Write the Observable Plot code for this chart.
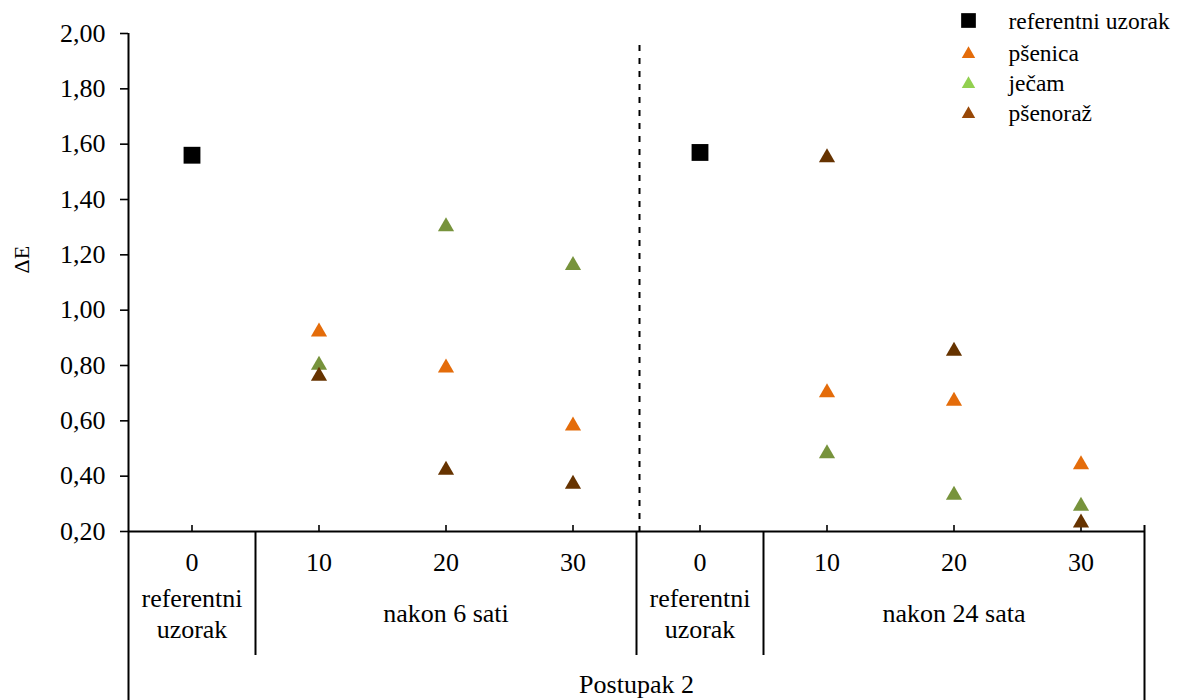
<!DOCTYPE html>
<html>
<head>
<meta charset="utf-8">
<script src="https://cdn.jsdelivr.net/npm/d3@7"></script>
<script src="https://cdn.jsdelivr.net/npm/@observablehq/plot@0.6"></script>
<style>
  html, body { margin: 0; padding: 0; background: #fff; }
  #chart { width: 1180px; height: 700px; }
  #chart svg, #chart svg text { font-family: "Liberation Serif", "Times New Roman", serif !important; }
</style>
</head>
<body>
<div id="chart"></div>
<script>
// ---- data ----
const tickLabels = ["0", "10", "20", "30", "0", "10", "20", "30"];
const groupLabels = ["referentni\nuzorak", "nakon 6 sati", "referentni\nuzorak", "nakon 24 sata"];
const groupStart = [0, 1, 4, 5];
const groupEnd = [1, 4, 5, 8];
const treatmentLabel = "Postupak 2";
const seriesNames = ["referentni uzorak", "pšenica", "ječam", "pšenoraž"];
const referentni = [1.56, null, null, null, 1.57, null, null, null];
const psenica = [null, 0.93, 0.80, 0.59, null, 0.71, 0.68, 0.45];
const jecam = [null, 0.81, 1.31, 1.17, null, 0.49, 0.34, 0.30];
const psenoraz = [null, 0.77, 0.43, 0.38, null, 1.56, 0.86, 0.24];
const yTicks = [0.2, 0.4, 0.6, 0.8, 1.0, 1.2, 1.4, 1.6, 1.8, 2.0];
const yLabel = "ΔE";

// ---- styles ----
const pointColors = ["#000000", "#E46C0A", "#77933C", "#663300"];
const legendColors = ["#000000", "#E46C0A", "#92D050", "#984807"];
const symbols = ["square", "triangle", "triangle", "triangle"];
const font = "Liberation Serif, Times New Roman, serif";

const rows = (arr) => arr.map((v, i) => ({pos: i + 0.5, value: v})).filter(d => d.value != null);
const seriesData = [referentni, psenica, jecam, psenoraz];

const groups = groupLabels.map((label, i) => ({label, mid: (groupStart[i] + groupEnd[i]) / 2}));
const ticks = tickLabels.map((label, i) => ({label, pos: i + 0.5}));

// legend marks
const legendRowY = [20, 52, 82, 112];
const legendMarks = [];
seriesNames.forEach((name, i) => {
  legendMarks.push(Plot.dot([name], {
    frameAnchor: "top-left", dx: 968 - 128, dy: legendRowY[i] - 33 + (i === 0 ? 0 : 1.5),
    symbol: symbols[i], r: i === 0 ? 8.3 : 5, fill: legendColors[i], stroke: "none"
  }));
  legendMarks.push(Plot.text([name], {
    frameAnchor: "top-left", dx: 1008 - 128, dy: legendRowY[i] - 33 + 1,
    text: d => d, textAnchor: "start", lineAnchor: "middle", fontSize: 23.5, fill: "black", fontFamily: font
  }));
});

// draw order: pšenica, ječam, pšenoraž, referentni
const order = [1, 2, 3, 0];
const pointMarks = order.map(i => Plot.dot(rows(seriesData[i]), {
  x: "pos", y: "value",
  symbol: symbols[i],
  r: i === 0 ? 9.5 : 6,
  dy: i === 0 ? 0 : 2.3,
  fill: pointColors[i], stroke: "none"
}));

const chart = Plot.plot({
  width: 1180,
  height: 700,
  marginTop: 33,
  marginBottom: 169,
  marginLeft: 128,
  marginRight: 36,
  style: {fontFamily: font, fontSize: "26px", color: "black", background: "white"},
  x: {domain: [0, 8], axis: null},
  y: {domain: [0.2, 2.0], label: null},
  marks: [
    Plot.axisY({
      ticks: yTicks,
      tickFormat: d => d.toFixed(2).replace(".", ","),
      tickSize: 8, tickPadding: 15, strokeWidth: 1.6,
      fontSize: 26, fontFamily: font, label: null
    }),
    // y-axis line extended into the category table
    Plot.ruleX([0], {insetBottom: -169, strokeWidth: 2, stroke: "black"}),
    // x-axis line
    Plot.ruleY([0.2], {strokeWidth: 2, stroke: "black"}),
    // small upward ticks at category centers
    Plot.ruleX(ticks, {x: "pos", y1: 0.2, y2: 0.2, insetTop: -6, strokeWidth: 1.6, stroke: "black"}),
    // dashed divider
    Plot.ruleX([4], {insetTop: 12, dx: 3, strokeWidth: 2, strokeDasharray: "6,7", stroke: "black"}),
    // table separators
    Plot.ruleX([1, 4, 5], {y1: 0.2, y2: 0.2, insetBottom: -124, strokeWidth: 2, stroke: "black"}),
    Plot.ruleX([8], {y1: 0.2, y2: 0.2, insetTop: -6, insetBottom: -169, strokeWidth: 2, stroke: "black"}),
    // category tick labels
    Plot.text(ticks, {x: "pos", text: "label", frameAnchor: "bottom", dy: 31, lineAnchor: "middle", fontSize: 26, fontFamily: font}),
    // group labels
    Plot.text(groups, {x: "mid", text: "label", frameAnchor: "bottom", dy: 81, lineAnchor: "middle", lineHeight: 1.19, fontSize: 26, fontFamily: font}),
    // treatment label
    Plot.text([treatmentLabel], {x: 4, text: d => d, frameAnchor: "bottom", dy: 153, lineAnchor: "middle", fontSize: 26, fontFamily: font}),
    // y-axis title
    Plot.text([yLabel], {frameAnchor: "left", text: d => d, dx: -107, dy: -9, rotate: -90, lineAnchor: "middle", fontSize: 22, fontFamily: font}),
    ...pointMarks,
    ...legendMarks
  ]
});

document.getElementById("chart").appendChild(chart);
</script>
</body>
</html>
